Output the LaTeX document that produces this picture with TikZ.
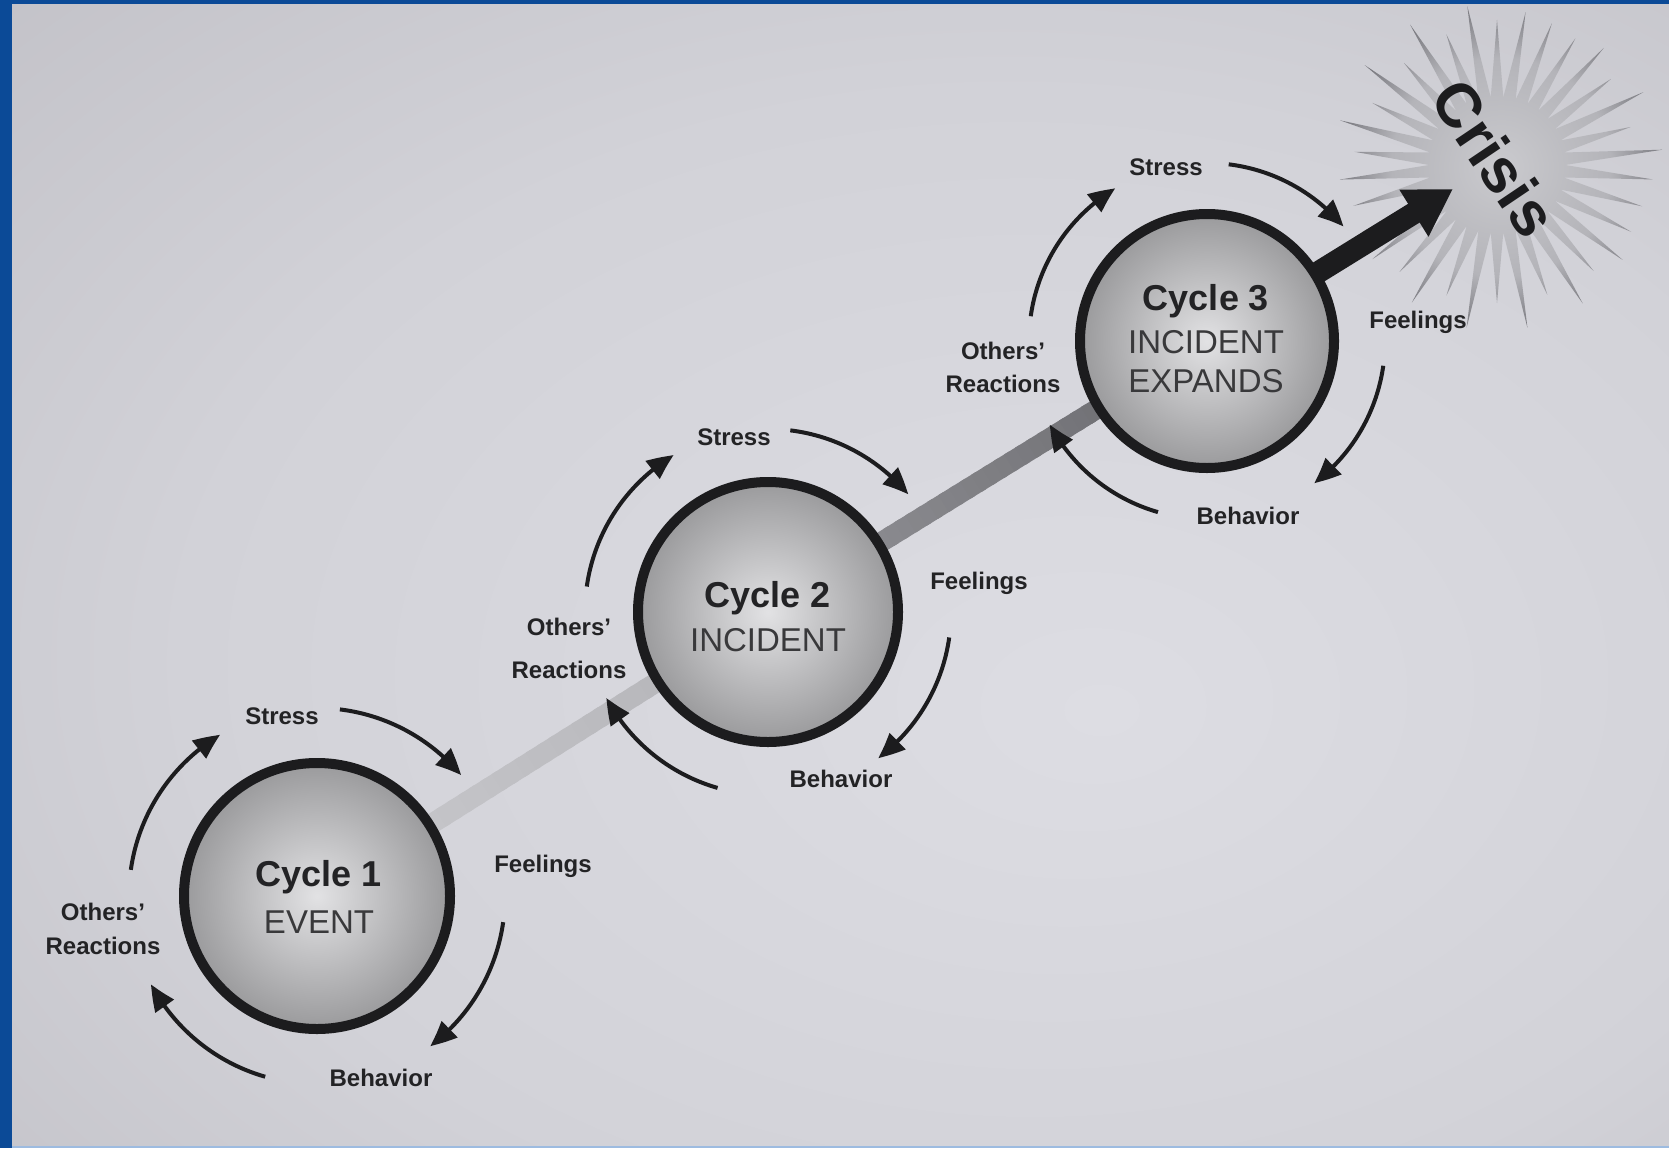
\documentclass[tikz,border=0pt]{standalone}
\usepackage{fontspec}
\setmainfont{Liberation Sans}
\usetikzlibrary{arrows.meta,calc,bending}
\definecolor{frameblue}{HTML}{0B4A97}
\definecolor{framelight}{HTML}{9DBBE0}
\definecolor{bgA}{HTML}{DDDDE3}
\definecolor{bgB}{HTML}{D2D2D8}
\definecolor{bgC}{HTML}{BAB9BF}
\definecolor{bgD}{HTML}{9C9A9F}
\definecolor{stA}{HTML}{CACACE}
\definecolor{stB}{HTML}{B4B4B9}
\definecolor{stC}{HTML}{6E6E74}
\definecolor{stD}{HTML}{98989E}
\definecolor{barA}{HTML}{CACACE}
\definecolor{barB}{HTML}{B2B2B6}
\definecolor{barC}{HTML}{95959A}
\definecolor{barD}{HTML}{67676B}
\definecolor{ink}{HTML}{1C1C1E}
\definecolor{lblcol}{HTML}{232325}
\definecolor{circIn}{HTML}{E2E2E4}
\definecolor{circOut}{HTML}{9A9A9C}
\pgfdeclareradialshading{bgshade}{\pgfpoint{8bp}{-6bp}}{color(0bp)=(bgA); color(25bp)=(bgB); color(50bp)=(bgC); color(72bp)=(bgD)}
\pgfdeclareradialshading{starshade}{\pgfpoint{0bp}{0bp}}{color(0bp)=(stA); color(17bp)=(stB); color(27bp)=(stC); color(40bp)=(stC); color(50bp)=(stD)}
\tikzset{
  cycnode/.style={circle, draw=ink, line width=10pt, inner sep=0pt, minimum size=#1, inner color=circIn, outer color=circOut},
  cyc/.style={line width=4pt, draw=ink, -{Triangle[length=26pt,width=22pt,bend]}},
  lbl/.style={font=\fontsize{24}{28}\selectfont\bfseries, text=lblcol, inner sep=0pt},
  ctitle/.style={font=\fontsize{36}{40}\selectfont\bfseries, text=lblcol, inner sep=0pt},
  csub/.style={font=\fontsize{33}{36}\selectfont, text=lblcol!90!white, inner sep=0pt},
}
\begin{document}
\begin{tikzpicture}[x=1pt,y=1pt]
\useasboundingbox (0,0) rectangle (1669,-1148);
% background
\shade[shading=bgshade] (12,-4) rectangle (1669,-1146);

% star burst
\coordinate (sc) at (1497,-165);
\foreach \i in {0,...,67} {
  \pgfmathsetmacro\ang{\i*5.2941}
  \pgfmathsetmacro\rr{68+isodd(\i)*(84+14*sin(\i*97))}
  \coordinate (st\i) at ($(sc)+(\ang:\rr)$);
}
\begin{scope}
\clip (12,-4) rectangle (1669,-1146);
\shade[shading=starshade] (st0) \foreach \i in {1,...,67} { -- (st\i) } -- cycle;
\end{scope}
\node[font=\fontsize{62}{62}\selectfont\bfseries, text=ink, rotate=-56, inner sep=0pt] (crisis) at (1495,-158) {Crisis};

% circle positions
\coordinate (p1) at (317,-896);
\coordinate (p2) at (768,-612);
\coordinate (p3) at (1207,-341);
\coordinate (tip) at (1453,-189);

% gradient bar
\foreach \i in {0,...,39} {
  \pgfmathsetmacro\ta{\i/40}
  \pgfmathsetmacro\tb{(\i+1.4)/40}
  \pgfmathtruncatemacro\pp{100*\i/39}
  \draw[line width=20pt, draw=barB!\pp!barA] ($(p1)!\ta!(p2)$) -- ($(p1)!\tb!(p2)$);
  \draw[line width=20pt, draw=barD!\pp!barC] ($(p2)!\ta!(p3)$) -- ($(p2)!\tb!(p3)$);
}
\draw[line width=22pt, draw=ink, -{Triangle[length=46pt,width=52pt]}] (p3) -- (tip);

% circles
\node[cycnode=266pt] (c1) at (p1) {};
\node[cycnode=260pt] (c2) at (p2) {};
\node[cycnode=254pt] (c3) at (p3) {};

% cycle arrows
\foreach \c/\R in {c1/188, c2/183, c3/178} {
  \foreach \a/\b [count=\k] in {83/40, -8/-53, -106/-152, 172/121} {
    \coordinate (\c arc\k) at ($(\c)+(\a:\R)$);
    \draw[cyc] (\c arc\k) arc[start angle=\a, end angle=\b, radius=\R];
  }
}

% texts in circles
\node[ctitle] (c1t) at (319,-877) {Cycle 1};
\node[csub] (c1u) at (319,-922) {EVENT};
\node[ctitle] (c2t) at (768,-598) {Cycle 2};
\node[csub] (c2u) at (768,-640) {INCIDENT};
\node[ctitle] (c3t) at (1206,-301) {Cycle 3};
\node[csub] (c3u) at (1206,-342) {INCIDENT};
\node[csub] (c3v) at (1206,-381) {EXPANDS};

% labels
\node[lbl] (s1) at (282,-716) {Stress};
\node[lbl] (f1) at (543,-866) {Feelings};
\node[lbl] (b1) at (381,-1078) {Behavior};
\node[lbl] (o1) at (103,-912) {Others'};
\node[lbl] (r1) at (103,-946) {Reactions};

\node[lbl] (s2) at (734,-437) {Stress};
\node[lbl] (f2) at (979,-583) {Feelings};
\node[lbl] (b2) at (841,-779) {Behavior};
\node[lbl] (o2) at (569,-627) {Others'};
\node[lbl] (r2) at (569,-670) {Reactions};

\node[lbl] (s3) at (1166,-167) {Stress};
\node[lbl] (f3) at (1418,-322) {Feelings};
\node[lbl] (b3) at (1248,-516) {Behavior};
\node[lbl] (o3) at (1003,-351) {Others'};
\node[lbl] (r3) at (1003,-384) {Reactions};

% frame
\fill[frameblue] (0,0) rectangle (12,-1148);
\fill[frameblue] (0,0) rectangle (1669,-4);
\fill[framelight] (12,-1146) rectangle (1669,-1148);
\end{tikzpicture}
\end{document}
